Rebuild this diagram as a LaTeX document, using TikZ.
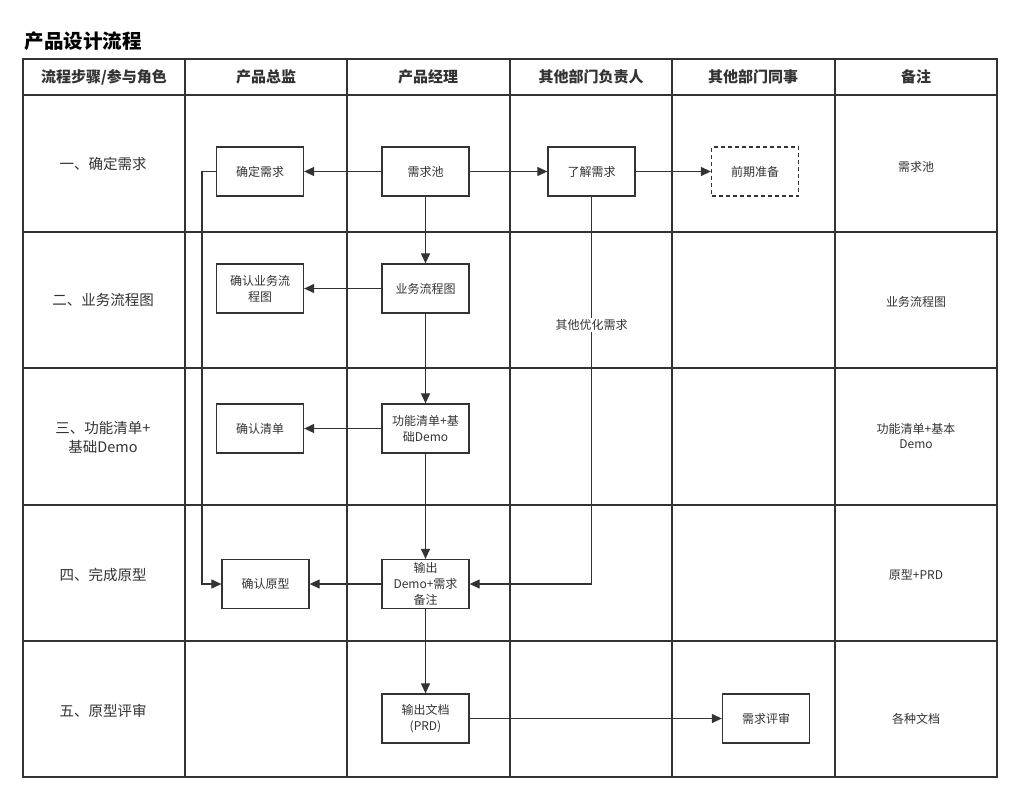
\documentclass[tikz,border=0pt]{standalone}
\usepackage{fontspec}
\setmainfont{Noto Sans CJK SC}
\usetikzlibrary{arrows.meta}
\definecolor{ink}{HTML}{333333}
\definecolor{txt}{HTML}{333333}
\begin{document}
\begin{tikzpicture}[x=1pt,y=-1pt,
  grid/.style={draw=ink,line width=1.7pt},
  box/.style={draw=ink,line width=1.3pt,minimum width=87pt,minimum height=49pt,align=center,inner sep=2pt,font=\fontsize{12}{16}\selectfont,text=txt},
  dbox/.style={box,dashed,dash pattern=on 4pt off 3pt},
  arr/.style={draw=ink,line width=1.2pt,-{Triangle[length=10pt,width=9pt]}},
  hdr/.style={font=\fontsize{15}{17}\selectfont\bfseries,text=txt},
  rowlab/.style={font=\fontsize{14.5}{19}\selectfont,text=txt,align=center},
  note/.style={font=\fontsize{12}{14.5}\selectfont,text=txt,align=center}]
\useasboundingbox (0,0) rectangle (1019,800);
\fill[white] (0,0) rectangle (1019,800);
% title
\node[anchor=west,font=\fontsize{19.5}{21}\selectfont\bfseries,text=black] (title) at (21,41) {产品设计流程};
% grid
\draw[grid] (23,59) rectangle (997,777);
\foreach \x in {185,347,510,672,835} \draw[grid] (\x,59) -- (\x,777);
\foreach \y in {95,232,368,505,641} \draw[grid] (23,\y) -- (997,\y);
% headers
\node[hdr] (h1) at (104,77) {流程步骤/参与角色};
\node[hdr] (h2) at (266,77) {产品总监};
\node[hdr] (h3) at (428,77) {产品经理};
\node[hdr] (h4) at (591,77) {其他部门负责人};
\node[hdr] (h5) at (753,77) {其他部门同事};
\node[hdr] (h6) at (916,77) {备注};
% row labels
\node[rowlab] (r1) at (103,164) {一、确定需求};
\node[rowlab] (r2) at (103,300) {二、业务流程图};
\node[rowlab] (r3) at (103,437) {三、功能清单+\\基础Demo};
\node[rowlab] (r4) at (103,575) {四、完成原型};
\node[rowlab] (r5) at (103,711) {五、原型评审};
% notes
\node[note] (n1) at (916,167) {需求池};
\node[note] (n2) at (916,302) {业务流程图};
\node[note] (n3) at (916,436) {功能清单+基本\\Demo};
\node[note] (n4) at (916,575) {原型+PRD};
\node[note] (n5) at (916,719) {各种文档};
% boxes
\node[box] (qd) at (260,171.5) {确定需求};
\node[box] (xqc) at (425.5,171.5) {需求池};
\node[box] (ljxq) at (591.5,171.5) {了解需求};
\node[dbox] (qqzb) at (755,171.5) {前期准备};
\node[box] (qrlc) at (260,288.5) {确认业务流\\程图};
\node[box] (ywlc) at (425.5,288.5) {业务流程图};
\node[box] (qrqd) at (260,428.5) {确认清单};
\node[box] (gnqd) at (425.5,428.5) {功能清单+基\\础Demo};
\node[box] (qryx) at (265.5,584) {确认原型};
\node[box] (scdemo) at (425.5,584) {输出\\Demo+需求\\备注};
\node[box] (scwd) at (425.5,718.5) {输出文档\\(PRD)};
\node[box] (xqps) at (766,718.5) {需求评审};
% connectors
\draw[arr] (xqc) -- (qd);
\draw[arr] (xqc) -- (ljxq);
\draw[arr] (ljxq) -- (qqzb);
\draw[arr] (xqc) -- (ywlc);
\draw[arr] (ywlc) -- (qrlc);
\draw[arr] (ywlc) -- (gnqd);
\draw[arr] (gnqd) -- (qrqd);
\draw[arr] (gnqd) -- (scdemo);
\draw[arr] (scdemo) -- (qryx);
\draw[arr] (scdemo) -- (scwd);
\draw[arr] (scwd) -- (xqps);
\coordinate (c1) at (202,171.5);
\draw[arr] (qd.west) -- (c1) |- (qryx.west);
\draw[arr] (ljxq.south) |- (scdemo.east);
\node[note,fill=white,inner sep=1pt] (qtyh) at (591.5,325) {其他优化需求};
\end{tikzpicture}
\end{document}
